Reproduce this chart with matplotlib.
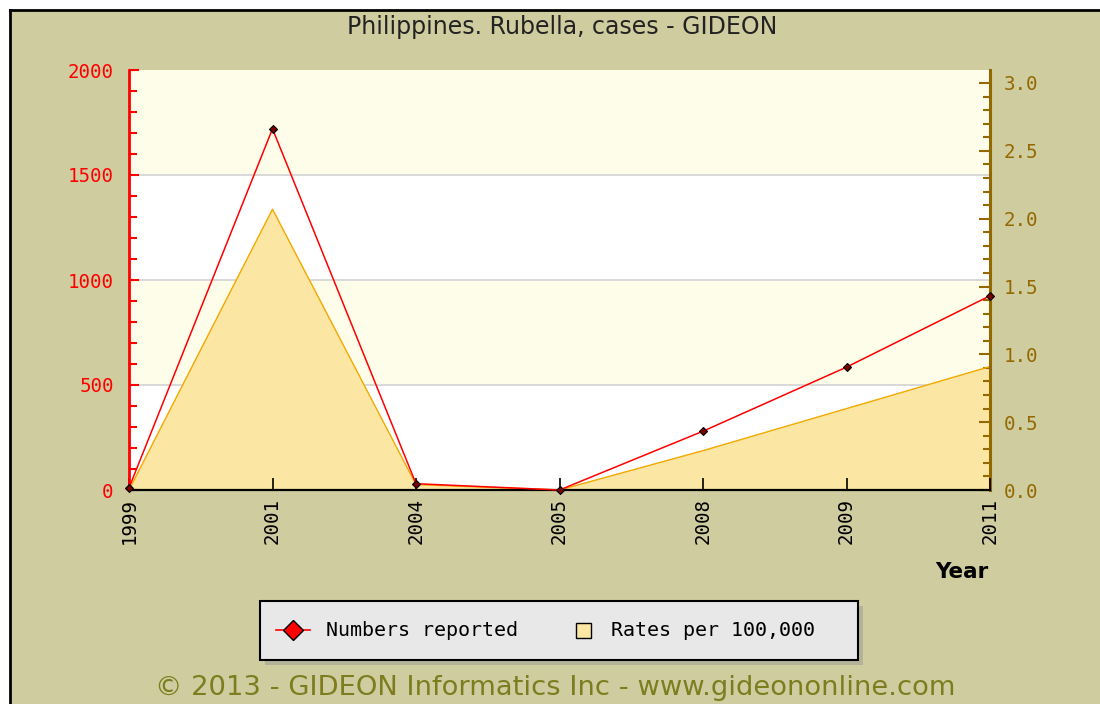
import matplotlib
matplotlib.use("Agg")
import matplotlib.pyplot as plt
from matplotlib.patches import Rectangle
from matplotlib.lines import Line2D
from matplotlib.transforms import blended_transform_factory
from matplotlib.ticker import MultipleLocator

# data
years = ['1999', '2001', '2004', '2005', '2008', '2009', '2011']
numbers = [10, 1720, 30, 0, 280, 585, 925]
rates = [0.0, 2.07, 0.04, 0.0, 0.29, 0.60, 0.91]

KHAKI = '#cfcd9f'
PALE = '#fdfdea'
FILL = '#fbe6a3'
FILL_EDGE = '#f2a900'
BROWN = '#946800'
OLIVE = '#7d7d20'

fig = plt.figure(figsize=(11, 7.04), dpi=100, facecolor='white')

# khaki panel with black top/left border
fig.patches.append(Rectangle((10/1100, 0), 1, 1 - 10/704, transform=fig.transFigure,
                             facecolor=KHAKI, edgecolor='none', zorder=-10))
fig.add_artist(Line2D([10/1100, 1], [1 - 10/704, 1 - 10/704], transform=fig.transFigure,
                      color='black', lw=2))
fig.add_artist(Line2D([10/1100, 10/1100], [0, 1 - 10/704], transform=fig.transFigure,
                      color='black', lw=2))

pos = [129/1100, 214/704, 861/1100, 420/704]
ax2 = fig.add_axes(pos)   # rates (behind)
ax = fig.add_axes(pos, sharex=ax2)  # numbers (front)
ax.patch.set_visible(False)
ax2.set_facecolor('white')

x = list(range(len(years)))
ax.set_xlim(0, len(years) - 1)
ax.set_ylim(0, 2000)
ax2.set_ylim(0, 3.0 * 420 / 407)

# alternating bands and grid lines, behind the rate area
tr = blended_transform_factory(ax2.transAxes, ax.transData)
for lo in (500, 1500):
    ax2.add_patch(Rectangle((0, lo), 1, 500, transform=tr, facecolor=PALE,
                            edgecolor='none', zorder=0))
for g in (500, 1000, 1500):
    ax2.add_line(Line2D([0, 1], [g, g], transform=tr, color='#d6d6d6', lw=1.3, zorder=0.5))

ax2.fill_between(x, rates, 0, facecolor=FILL, edgecolor='none', zorder=1)
ax2.plot(x, rates, color=FILL_EDGE, lw=1.0, zorder=2)

ax.plot(x, numbers, color='red', lw=1.1, marker='D', ms=4.5,
        mfc='#7a0000', mec='black', mew=0.8, zorder=3, clip_on=False)

# spines
for s in ('top', 'right'):
    ax.spines[s].set_visible(False)
for s in ('top', 'left', 'bottom'):
    ax2.spines[s].set_visible(False)
ax.spines['left'].set_color('red')
ax.spines['left'].set_linewidth(2)
ax.spines['bottom'].set_color('black')
ax.spines['bottom'].set_linewidth(1.6)
ax2.spines['right'].set_color(BROWN)
ax2.spines['right'].set_linewidth(2.2)

mono = 'DejaVu Sans Mono'
ax.set_yticks([0, 500, 1000, 1500, 2000])
ax.yaxis.set_minor_locator(MultipleLocator(100))
ax.tick_params(axis='y', which='both', direction='in', colors='red', width=1.5)
ax.tick_params(axis='y', which='major', length=7, pad=11, labelsize=13.8)
ax.tick_params(axis='y', which='minor', length=6)
for lab in ax.get_yticklabels():
    lab.set_family(mono)

ax.set_xticks(x)
ax.set_xticklabels(years, rotation=90, family=mono, fontsize=13.8)
ax.tick_params(axis='x', direction='in', length=9, width=1.2, colors='black', pad=6)
ax2.tick_params(axis='x', bottom=False, labelbottom=False)

ax2.set_yticks([0, 0.5, 1.0, 1.5, 2.0, 2.5, 3.0])
ax2.set_yticklabels(['0.0', '0.5', '1.0', '1.5', '2.0', '2.5', '3.0'], family=mono)
ax2.yaxis.set_minor_locator(MultipleLocator(0.1))
ax2.tick_params(axis='y', which='both', direction='in', colors=BROWN, width=1.5,
                left=False, right=True, labelleft=False, labelright=True)
ax2.tick_params(axis='y', which='major', length=8, pad=10, labelsize=13.8)
ax2.tick_params(axis='y', which='minor', length=5)
ax.tick_params(axis='y', right=False, which='both')

fig.text(562/1100, 1 - 27/704, 'Philippines. Rubella, cases - GIDEON', ha='center',
         va='center', fontsize=17, color='#222222')
fig.text(988/1100, 1 - 572/704, 'Year', ha='right', va='center', fontsize=15.5,
         fontweight='bold', color='black')

# legend box with shadow
lx, ly, lw_, lh = 260/1100, 1 - 660/704, 598/1100, 59/704
fig.patches.append(Rectangle((lx + 5/1100, ly - 5/704), lw_, lh, transform=fig.transFigure,
                             facecolor='#b4b39a', edgecolor='none', zorder=1))
fig.patches.append(Rectangle((lx, ly), lw_, lh, transform=fig.transFigure,
                             facecolor='#e8e8e8', edgecolor='black', lw=1.5, zorder=2))
ymid = 1 - 630/704
fig.add_artist(Line2D([276/1100, 310/1100], [ymid, ymid], transform=fig.transFigure,
                      color='red', lw=1.2, zorder=3))
fig.add_artist(Line2D([293/1100], [ymid], transform=fig.transFigure, marker='D', ms=10,
                      mfc='red', mec='black', mew=1, zorder=4))
fig.text(326/1100, ymid, 'Numbers reported', family=mono, fontsize=14.4, va='center', zorder=4)
fig.patches.append(Rectangle((576/1100, 1 - 638/704), 15/1100, 15/704, transform=fig.transFigure,
                             facecolor=FILL, edgecolor='black', lw=1, zorder=3))
fig.text(611/1100, ymid, 'Rates per 100,000', family=mono, fontsize=14.4, va='center', zorder=4)

fig.text(555/1100, 1 - 688/704, '\u00a9 2013 - GIDEON Informatics Inc - www.gideononline.com',
         ha='center', va='center', fontsize=19.7, color=OLIVE)

fig.savefig('out.png', dpi=100, facecolor='white')
